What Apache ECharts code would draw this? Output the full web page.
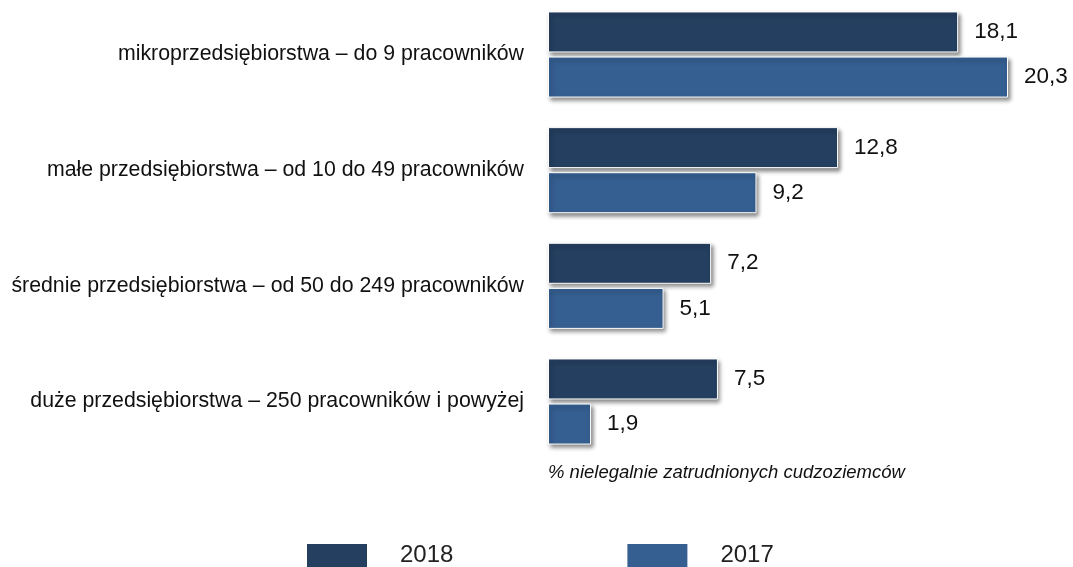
<!DOCTYPE html>
<html>
<head>
<meta charset="utf-8">
<script src="https://cdn.jsdelivr.net/npm/echarts@6/dist/echarts.min.js"></script>
<style>
  html, body { margin: 0; padding: 0; background: #fff; }
  #chart { width: 1073px; height: 567px; }
</style>
</head>
<body>
<div id="chart"></div>
<script>
// Company size classes (top to bottom)
const categories = [
  'mikroprzedsiębiorstwa – do 9 pracowników',
  'małe przedsiębiorstwa – od 10 do 49 pracowników',
  'średnie przedsiębiorstwa – od 50 do 249 pracowników',
  'duże przedsiębiorstwa – 250 pracowników i powyżej'
];
// Share of illegally employed foreigners, %
const values2018 = [18.1, 12.8, 7.2, 7.5];
const values2017 = [20.3, 9.2, 5.1, 1.9];
const seriesNames = ['2018', '2017'];
const axisNote = '% nielegalnie zatrudnionych cudzoziemców';

const FONT = '"Liberation Sans", Arial, Helvetica, sans-serif';
const colors = ['#253f60', '#355f91'];

const chart = echarts.init(document.getElementById('chart'), null, { renderer: 'canvas' });

const barStyle = (color) => ({
  color: color,
  borderColor: '#ffffff',
  borderWidth: 1,
  shadowColor: 'rgba(0,0,0,0.45)',
  shadowBlur: 4,
  shadowOffsetX: 2,
  shadowOffsetY: 3
});

const valueLabel = {
  show: true,
  position: 'right',
  distance: 16,
  color: '#111',
  fontFamily: FONT,
  fontSize: 22.5,
  padding: [5, 0, 0, 0],
  formatter: (p) => String(p.value).replace('.', ',')
};

chart.setOption({
  animation: false,
  backgroundColor: '#ffffff',
  // categories sit on the grid edges (boundaryGap false), one group every ~115.7px
  grid: { left: 548, top: 54.5, width: 460, height: 347, containLabel: false },
  xAxis: {
    type: 'value',
    min: 0,
    max: 20.3,
    show: false
  },
  yAxis: {
    type: 'category',
    inverse: true,
    boundaryGap: false,
    data: categories,
    axisLine: { show: false },
    axisTick: { show: false },
    splitLine: { show: false },
    axisLabel: {
      margin: 24,
      color: '#111',
      fontFamily: FONT,
      fontSize: 21.3,
      padding: [5, 0, 0, 0]
    }
  },
  legend: {
    left: 305,
    top: 542,
    padding: 0,
    itemWidth: 62,
    itemHeight: 25,
    itemGap: 172,
    icon: 'rect',
    data: seriesNames,
    textStyle: {
      color: '#222',
      fontFamily: FONT,
      fontSize: 24,
      padding: [2, 0, 0, 27]
    }
  },
  graphic: [{
    type: 'text',
    left: 548,
    top: 463,
    style: {
      text: axisNote,
      fontFamily: FONT,
      fontStyle: 'italic',
      fontSize: 18.5,
      fill: '#111'
    }
  }],
  series: [
    {
      name: seriesNames[0],
      type: 'bar',
      data: values2018,
      barWidth: 41,
      barGap: '10%',
      itemStyle: barStyle(colors[0]),
      label: valueLabel
    },
    {
      name: seriesNames[1],
      type: 'bar',
      data: values2017,
      barWidth: 41,
      barGap: '10%',
      itemStyle: barStyle(colors[1]),
      label: valueLabel
    }
  ]
});
</script>
</body>
</html>
